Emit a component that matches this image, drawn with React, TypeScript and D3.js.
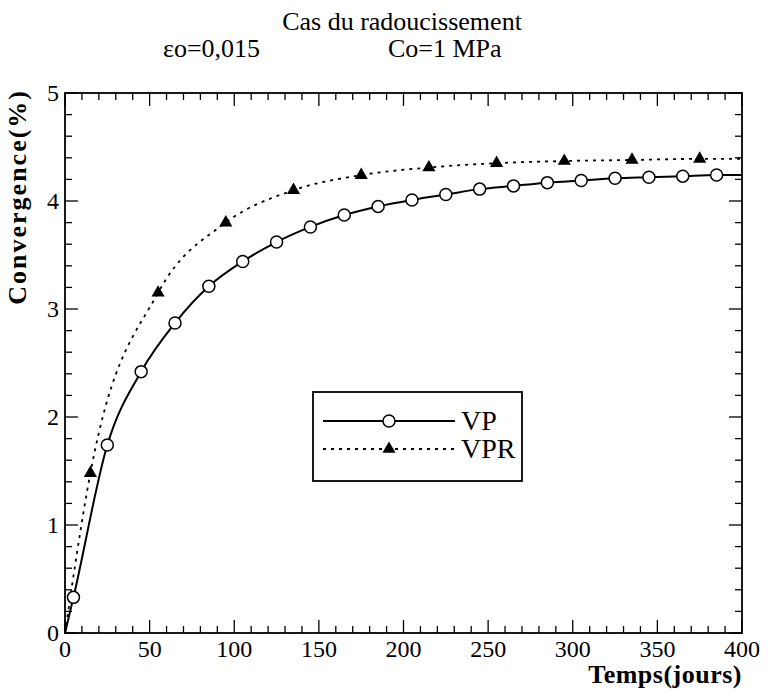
import React from 'react';
import * as d3 from 'd3';

// VP : points tous les 20 jours (cercles)
const vpDays = [5, 25, 45, 65, 85, 105, 125, 145, 165, 185, 205, 225, 245, 265, 285, 305, 325, 345, 365, 385];
const vpValues = [0.33, 1.74, 2.42, 2.87, 3.21, 3.44, 3.62, 3.76, 3.87, 3.95, 4.01, 4.06, 4.11, 4.14, 4.17, 4.19, 4.21, 4.22, 4.23, 4.24];
// VPR : points tous les 40 jours (triangles)
const vprDays = [15, 55, 95, 135, 175, 215, 255, 295, 335, 375];
const vprValues = [1.48, 3.15, 3.8, 4.1, 4.24, 4.31, 4.35, 4.37, 4.38, 4.39];
// extrémités des courbes
const curveEndDays = [0, 400];
const vpEndValues = [0, 4.24];
const vprEndValues = [0, 4.39];

const xTicks = [0, 50, 100, 150, 200, 250, 300, 350, 400];
const yTicks = [0, 1, 2, 3, 4, 5];

const W = 772;
const H = 698;
const margin = { top: 93, right: 30, bottom: 65, left: 65 };
const FONT = "'Liberation Serif', 'DejaVu Serif', serif";

const App: React.FC = () => {
  const x = d3.scaleLinear().domain([0, 400]).range([margin.left, W - margin.right]);
  const y = d3.scaleLinear().domain([0, 5]).range([H - margin.bottom, margin.top]);

  const x0 = x(0), x1 = x(400), y0 = y(0), y1 = y(5);

  const vpPts: [number, number][] = [
    [curveEndDays[0], vpEndValues[0]],
    ...vpDays.map((d, i) => [d, vpValues[i]] as [number, number]),
    [curveEndDays[1], vpEndValues[1]],
  ];
  const vprPts: [number, number][] = [
    [curveEndDays[0], vprEndValues[0]],
    ...vprDays.map((d, i) => [d, vprValues[i]] as [number, number]),
    [curveEndDays[1], vprEndValues[1]],
  ];

  const line = d3.line<[number, number]>()
    .x(d => x(d[0]))
    .y(d => y(d[1]))
    .curve(d3.curveMonotoneX);

  const tri = d3.symbol().type(d3.symbolTriangle).size(75)()!;

  const xMinor = d3.range(0, 401, 10).filter(v => v % 50 !== 0);
  const yMinor = d3.range(0, 5.01, 0.2).map(v => +v.toFixed(1)).filter(v => v % 1 !== 0);

  const majorLen = 13;
  const minorLen = 7;

  // légende
  const lg = { x: 313, y: 392, w: 209, h: 89 };

  return (
    <svg width={W} height={H} style={{ position: 'absolute', left: 0, top: 0, background: '#fff', fontFamily: FONT }}>
      {/* titre */}
      <text x={402} y={30} textAnchor="middle" fontSize={26}>Cas du radoucissement</text>
      <text x={163} y={57} fontSize={26}>εo=0,015</text>
      <text x={388} y={57} fontSize={26}>Co=1 MPa</text>

      {/* graduations */}
      <g stroke="#000" strokeWidth={1.3}>
        {xTicks.map(t => (
          <g key={'xm' + t}>
            <line x1={x(t)} x2={x(t)} y1={y0} y2={y0 - majorLen} />
            <line x1={x(t)} x2={x(t)} y1={y1} y2={y1 + majorLen} />
          </g>
        ))}
        {xMinor.map(t => (
          <g key={'xn' + t}>
            <line x1={x(t)} x2={x(t)} y1={y0} y2={y0 - minorLen} />
            <line x1={x(t)} x2={x(t)} y1={y1} y2={y1 + minorLen} />
          </g>
        ))}
        {yTicks.map(t => (
          <g key={'ym' + t}>
            <line x1={x0} x2={x0 + majorLen} y1={y(t)} y2={y(t)} />
            <line x1={x1} x2={x1 - majorLen} y1={y(t)} y2={y(t)} />
          </g>
        ))}
        {yMinor.map(t => (
          <g key={'yn' + t}>
            <line x1={x0} x2={x0 + minorLen} y1={y(t)} y2={y(t)} />
            <line x1={x1} x2={x1 - minorLen} y1={y(t)} y2={y(t)} />
          </g>
        ))}
      </g>

      {/* cadre */}
      <rect x={x0} y={y1} width={x1 - x0} height={y0 - y1} fill="none" stroke="#000" strokeWidth={1.8} />

      {/* étiquettes */}
      {xTicks.map(t => (
        <text key={'xl' + t} x={x(t)} y={y0 + 24} textAnchor="middle" fontSize={24}>{t}</text>
      ))}
      {yTicks.map(t => (
        <text key={'yl' + t} x={x0 - 6} y={y(t) + 8} textAnchor="end" fontSize={24}>{t}</text>
      ))}

      <text x={x1} y={y0 + 50} textAnchor="end" fontSize={26} fontWeight="bold" letterSpacing={0.5}>Temps(jours)</text>
      <text transform={`translate(26,${y1 - 4}) rotate(-90)`} textAnchor="end" fontSize={26} fontWeight="bold" letterSpacing={2}>Convergence(%)</text>

      {/* courbes */}
      <path d={line(vpPts)!} fill="none" stroke="#000" strokeWidth={2} />
      <path d={line(vprPts)!} fill="none" stroke="#000" strokeWidth={1.8} strokeDasharray="3,5" />

      {vpDays.map((d, i) => (
        <circle key={'c' + d} cx={x(d)} cy={y(vpValues[i])} r={6} fill="#fff" stroke="#000" strokeWidth={1.5} />
      ))}
      {vprDays.map((d, i) => (
        <path key={'t' + d} d={tri} transform={`translate(${x(d)},${y(vprValues[i])})`} fill="#000" />
      ))}

      {/* légende */}
      <rect x={lg.x} y={lg.y} width={lg.w} height={lg.h} fill="#fff" stroke="#000" strokeWidth={1.8} />
      <line x1={lg.x + 10} x2={lg.x + 142} y1={lg.y + 29} y2={lg.y + 29} stroke="#000" strokeWidth={2} />
      <circle cx={lg.x + 76} cy={lg.y + 29} r={6} fill="#fff" stroke="#000" strokeWidth={1.5} />
      <text x={lg.x + 148} y={lg.y + 38} fontSize={28}>VP</text>
      <line x1={lg.x + 10} x2={lg.x + 142} y1={lg.y + 57} y2={lg.y + 57} stroke="#000" strokeWidth={1.8} strokeDasharray="3,5" />
      <path d={tri} transform={`translate(${lg.x + 76},${lg.y + 57})`} fill="#000" />
      <text x={lg.x + 148} y={lg.y + 66} fontSize={28}>VPR</text>
    </svg>
  );
};

export default App;
